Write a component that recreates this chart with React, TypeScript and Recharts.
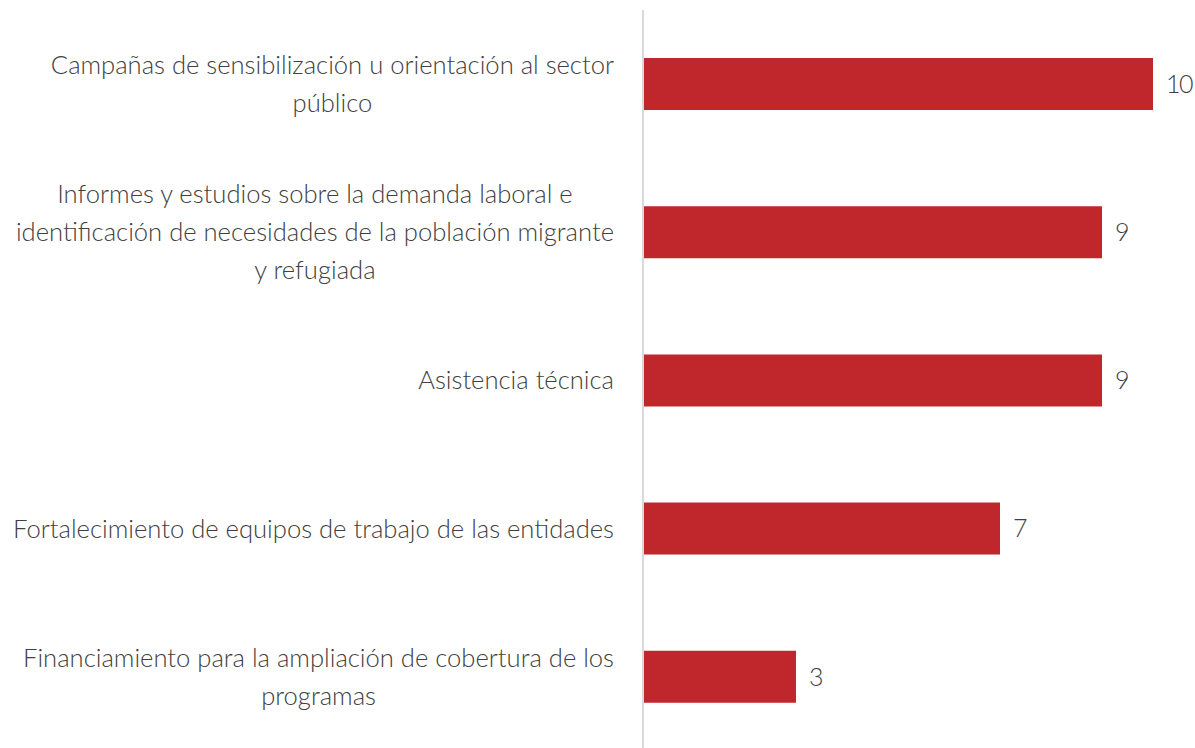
import React from 'react';
import { BarChart, Bar, XAxis, YAxis, LabelList } from 'recharts';

const categories = [
  'Campañas de sensibilización u orientación al sector\npúblico',
  'Informes y estudios sobre la demanda laboral e\nidentificación de necesidades de la población migrante\ny refugiada',
  'Asistencia técnica',
  'Fortalecimiento de equipos de trabajo de las entidades',
  'Financiamiento para la ampliación de cobertura de los\nprogramas',
];
const values = [10, 9, 9, 7, 3];

const data = categories.map((c, i) => ({ name: c, value: values[i] }));

const FONT = 'Lato, "Open Sans", sans-serif';
const FONT_SIZE = 25.6;
const TEXT_COLOR = '#404040';
const BAR_COLOR = '#C0272D';

let ctx: CanvasRenderingContext2D | null = null;
function measure(s: string): number {
  if (!ctx) {
    const c = document.createElement('canvas');
    ctx = c.getContext('2d');
  }
  if (!ctx) return s.length * 11;
  ctx.font = `300 ${FONT_SIZE}px ${FONT}`;
  return ctx.measureText(s).width;
}

const Tick = (props: any) => {
  const { y, payload } = props;
  const lines: string[] = String(payload.value).split('\n');
  const maxW = Math.max(...lines.map(measure));
  const right = 614;
  const cx = right - maxW / 2;
  const lh = 38;
  const start = y - ((lines.length - 1) * lh) / 2;
  return (
    <text
      textAnchor="middle"
      fill={TEXT_COLOR}
      fontFamily={FONT}
      fontWeight={300}
      fontSize={FONT_SIZE}
    >
      {lines.map((l, i) => (
        <tspan key={i} x={cx} y={start + i * lh} dy="0.35em">
          {l}
        </tspan>
      ))}
    </text>
  );
};

export default function App() {
  return (
    <div style={{ position: 'absolute', left: 0, top: 0, width: 1195, height: 748, overflow: 'hidden', background: '#fff' }}>
      <BarChart
        width={1195}
        height={751}
        data={data}
        layout="vertical"
        margin={{ top: 10, right: 42, bottom: 0, left: 0 }}
        barSize={52}
      >
        <XAxis type="number" domain={[0, 10]} hide />
        <YAxis
          type="category"
          dataKey="name"
          width={643}
          axisLine={{ stroke: '#d9d9d9', strokeWidth: 2 }}
          tickLine={false}
          tick={<Tick />}
          interval={0}
        />
        <Bar dataKey="value" fill={BAR_COLOR} isAnimationActive={false}>
          <LabelList
            dataKey="value"
            position="right"
            offset={13}
            fill={TEXT_COLOR}
            fontFamily={FONT}
            fontWeight={300}
            fontSize={25}
            letterSpacing={-1.5}
          />
        </Bar>
      </BarChart>
    </div>
  );
}
